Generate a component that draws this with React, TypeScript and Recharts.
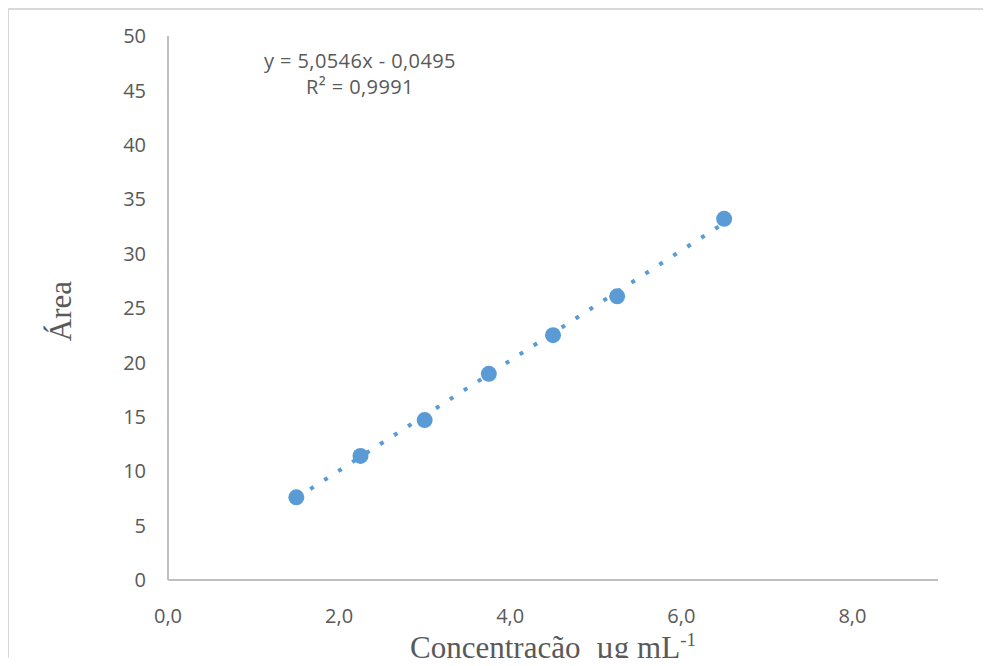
import { Scatter, ScatterChart, XAxis, YAxis } from 'recharts';

// concentração (µg mL-1) e área
const concentracao = [1.5, 2.25, 3.0, 3.75, 4.5, 5.25, 6.5];
const area = [7.6, 11.4, 14.7, 18.95, 22.5, 26.07, 33.2];

// extremos da linha de tendência (y = 5,0546x - 0,0495)
const tendenciaX = [1.5, 6.5];
const tendenciaY = [7.53, 32.81];

const xTicks = [0, 2, 4, 6, 8];
const yTicks = [0, 5, 10, 15, 20, 25, 30, 35, 40, 45, 50];

const equacao = 'y = 5,0546x - 0,0495';
const r2 = 'R² = 0,9991';

const BLUE = '#5B9BD5';
const AXIS = '#BFBFBF';
const TEXT = '#595959';
const SANS = '"Open Sans", sans-serif';
const SERIF = '"Liberation Serif", "Times New Roman", serif';

const pontos = concentracao.map((x, i) => ({ x, y: area[i] }));
const tendencia = tendenciaX.map((x, i) => ({ x, y: tendenciaY[i] }));

const formatX = (v: number) => v.toFixed(1).replace('.', ',');

function XTitle({ viewBox }: any) {
  const { x, width } = viewBox;
  return (
    <text
      x={x + width / 2}
      y={658}
      textAnchor='middle'
      fontFamily={SERIF}
      fontSize={31}
      fill={TEXT}
      style={{ whiteSpace: 'pre' }}
    >
      {'Concentração  µg mL'}
      <tspan dy={-12} fontSize={19}>
        -1
      </tspan>
    </text>
  );
}

function YTitle({ viewBox }: any) {
  const cx = 71;
  const cy = viewBox.y + viewBox.height / 2 + 3;
  return (
    <text
      x={cx}
      y={cy}
      transform={`rotate(-90, ${cx}, ${cy})`}
      textAnchor='middle'
      fontFamily={SERIF}
      fontSize={31}
      fill={TEXT}
    >
      Área
    </text>
  );
}

export default function App() {
  return (
    <div
      style={{
        position: 'relative',
        width: 991,
        height: 666,
        margin: -8,
        background: '#fff',
        overflow: 'hidden',
      }}
    >
      <div
        style={{
          position: 'absolute',
          left: 7,
          top: 8,
          right: 0,
          bottom: 0,
          borderLeft: '2px solid #D9D9D9',
          borderTop: '2px solid #D9D9D9',
        }}
      />
      <ScatterChart width={991} height={666} margin={{ top: 36, right: 53, bottom: 0, left: 0 }}>
        <XAxis
          type='number'
          dataKey='x'
          domain={[0, 9]}
          ticks={xTicks}
          tickFormatter={formatX}
          height={86}
          axisLine={{ stroke: AXIS, strokeWidth: 2 }}
          tickLine={false}
          tickSize={0}
          tickMargin={29}
          tick={{ fill: TEXT, fontSize: 20, fontFamily: SANS }}
          label={<XTitle />}
        />
        <YAxis
          type='number'
          dataKey='y'
          domain={[0, 50]}
          ticks={yTicks}
          width={168}
          axisLine={{ stroke: AXIS, strokeWidth: 2 }}
          tickLine={false}
          tickSize={0}
          tickMargin={22}
          tick={{ fill: TEXT, fontSize: 20, fontFamily: SANS }}
          label={<YTitle />}
        />
        <Scatter
          data={tendencia}
          line={{ stroke: BLUE, strokeWidth: 4, strokeDasharray: '4 12.6' }}
          shape={() => <g />}
          isAnimationActive={false}
        />
        <Scatter
          data={pontos}
          fill={BLUE}
          shape={(p: any) => <circle cx={p.cx} cy={p.cy} r={8} fill={BLUE} />}
          isAnimationActive={false}
        />
      </ScatterChart>
      <div
        style={{
          position: 'absolute',
          left: 250,
          top: 48,
          width: 220,
          textAlign: 'center',
          fontFamily: SANS,
          fontSize: 20,
          lineHeight: '26px',
          letterSpacing: 0.4,
          color: TEXT,
        }}
      >
        <div>{equacao}</div>
        <div>{r2}</div>
      </div>
    </div>
  );
}
